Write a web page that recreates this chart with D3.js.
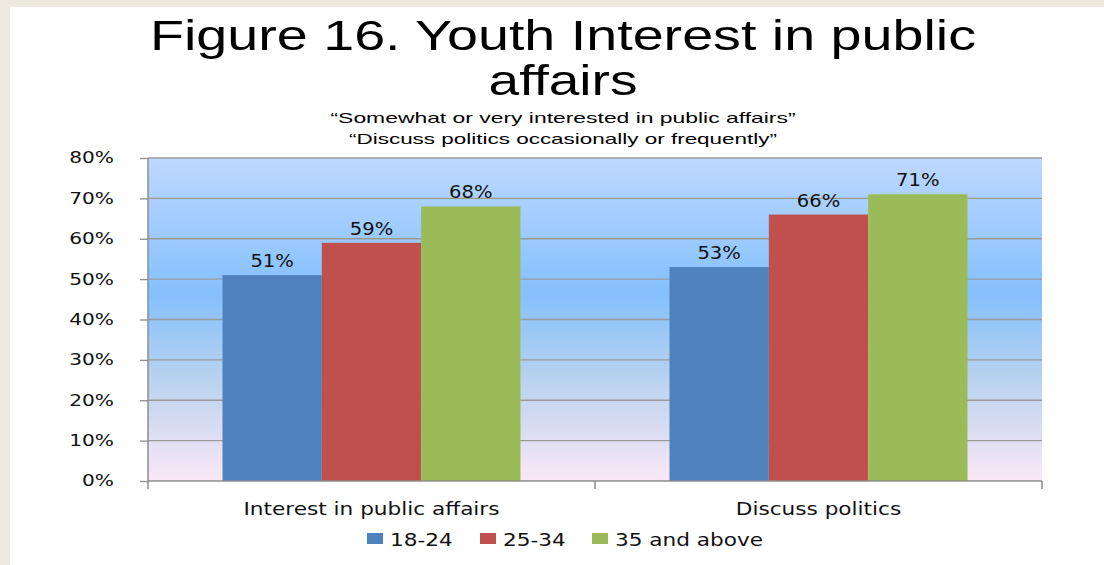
<!DOCTYPE html>
<html>
<head>
<meta charset="utf-8">
<script src="https://cdn.jsdelivr.net/npm/d3@7"></script>
<style>
  html, body { margin: 0; padding: 0; background: #ffffff; }
  svg { display: block; }
</style>
</head>
<body>
<svg id="chart" width="1104" height="565"></svg>
<script>
// Survey data: share of respondents by age group
const categories = ["Interest in public affairs", "Discuss politics"];
const seriesNames = ["18-24", "25-34", "35 and above"];
const seriesColors = ["#4f81bd", "#c0504d", "#9bbb59"];
const values18to24 = [51, 53];
const values25to34 = [59, 66];
const values35plus = [68, 71];
const yTicks = [0, 10, 20, 30, 40, 50, 60, 70, 80];
const titleLines = ["Figure 16. Youth Interest in public", "affairs"];
const subtitleLines = ["\u201cSomewhat or very interested in public affairs\u201d",
                       "\u201cDiscuss politics occasionally or frequently\u201d"];

const seriesValues = [values18to24, values25to34, values35plus];

const svg = d3.select("#chart");
const W = 1104, H = 565;
const labelFont = "'DejaVu Sans', Verdana, sans-serif";
const titleFont = "'Liberation Sans', Arial, sans-serif";

// widen text horizontally by a factor (labels use a wide face)
function stretch(sel, factor) {
  sel.each(function () {
    const w = this.getComputedTextLength();
    d3.select(this).attr("textLength", w * factor).attr("lengthAdjust", "spacingAndGlyphs");
  });
}

// slide frame
svg.append("rect").attr("x", 0).attr("y", 0).attr("width", W).attr("height", H).attr("fill", "#ece9df");
svg.append("rect").attr("x", 10).attr("y", 7).attr("width", W - 10).attr("height", H - 7).attr("fill", "#ffffff");

const plot = { left: 148, right: 1042, top: 158, bottom: 481 };

const x0 = d3.scaleBand().domain(categories).range([plot.left, plot.right]).paddingInner(0).paddingOuter(0);
const barW = x0.bandwidth() / 4.5;
const x1 = d3.scaleBand().domain(seriesNames).range([0, barW * 3]);
const y = d3.scaleLinear().domain([0, 80]).range([plot.bottom, plot.top]);

// plot area gradient
const defs = svg.append("defs");
const grad = defs.append("linearGradient").attr("id", "plotBg").attr("x1", 0).attr("y1", 0).attr("x2", 0).attr("y2", 1);
[[0, "#bdd8ff"], [0.42, "#84c0fd"], [0.7, "#bcd3ee"], [1, "#fbe8f7"]].forEach(([o, c]) =>
  grad.append("stop").attr("offset", o).attr("stop-color", c));
svg.append("rect")
  .attr("x", plot.left).attr("y", plot.top)
  .attr("width", plot.right - plot.left).attr("height", plot.bottom - plot.top)
  .attr("fill", "url(#plotBg)");

// gridlines
svg.append("g").selectAll("line").data(yTicks.filter(t => t > 0)).join("line")
  .attr("x1", plot.left).attr("x2", plot.right)
  .attr("y1", d => y(d)).attr("y2", d => y(d))
  .attr("stroke", "#9a9a9a").attr("stroke-width", 1.3);

// titles
svg.append("g").selectAll("text").data(titleLines).join("text")
  .attr("x", 563).attr("y", (d, i) => 50 + i * 45)
  .attr("text-anchor", "middle")
  .attr("font-family", titleFont)
  .attr("font-size", 42)
  .attr("fill", "#000")
  .attr("textLength", (d, i) => i === 0 ? 826 : 149)
  .attr("lengthAdjust", "spacingAndGlyphs")
  .text(d => d);

svg.append("g").selectAll("text").data(subtitleLines).join("text")
  .attr("x", 563).attr("y", (d, i) => 123 + i * 21)
  .attr("text-anchor", "middle")
  .attr("font-family", titleFont)
  .attr("font-size", 15)
  .attr("textLength", (d, i) => i === 0 ? 465 : 428)
  .attr("lengthAdjust", "spacingAndGlyphs")
  .text(d => d);

// bars
const groups = svg.append("g").selectAll("g").data(categories).join("g")
  .attr("transform", c => `translate(${x0(c) + barW * 0.75},0)`);

const barData = (c, ci) => seriesNames.map((s, si) => ({ s, si, v: seriesValues[si][ci] }));

groups.selectAll("rect").data(barData).join("rect")
  .attr("x", d => x1(d.s))
  .attr("width", x1.bandwidth())
  .attr("y", d => y(d.v))
  .attr("height", d => y(0) - y(d.v))
  .attr("fill", d => seriesColors[d.si]);

const valueLabels = groups.selectAll("text").data(barData).join("text")
  .attr("x", d => x1(d.s) + x1.bandwidth() / 2)
  .attr("y", d => y(d.v) - 8)
  .attr("text-anchor", "middle")
  .attr("font-family", labelFont)
  .attr("font-size", 17)
  .attr("fill", "#111")
  .text(d => d.v + "%");
stretch(valueLabels, 1.15);

// y axis
const yAxis = d3.axisLeft(y).tickValues(yTicks).tickFormat(d => d + "%").tickSize(8).tickPadding(26);
const gy = svg.append("g").attr("transform", `translate(${plot.left},0)`).call(yAxis);
gy.select(".domain").attr("stroke", "#8c8c8c").attr("stroke-width", 1.5).attr("d", `M0,${plot.top}V${plot.bottom}`);
gy.selectAll(".tick line").attr("stroke", "#8c8c8c").attr("stroke-width", 1.3);
const yLabels = gy.selectAll(".tick text")
  .attr("font-family", labelFont)
  .attr("font-size", 15.5).attr("fill", "#111");
stretch(yLabels, 1.3);

// x axis
const xAxis = d3.axisBottom(x0).tickSize(0).tickPadding(21);
const gx = svg.append("g").attr("transform", `translate(0,${plot.bottom})`).call(xAxis);
gx.select(".domain").attr("stroke", "#8c8c8c").attr("stroke-width", 1.5).attr("d", `M${plot.left},0H${plot.right}`);
const xLabels = gx.selectAll(".tick text")
  .attr("font-family", labelFont)
  .attr("font-size", 18).attr("fill", "#111");
stretch(xLabels, 1.2);
// category separators
const bounds = [plot.left, ...categories.slice(1).map(c => x0(c)), plot.right];
gx.append("g").selectAll("line").data(bounds).join("line")
  .attr("x1", d => d).attr("x2", d => d).attr("y1", 0).attr("y2", 8)
  .attr("stroke", "#8c8c8c").attr("stroke-width", 1.5);

// legend
const legendX = [367, 480, 592];
const legend = svg.append("g").selectAll("g").data(seriesNames).join("g")
  .attr("transform", (d, i) => `translate(${legendX[i]},533)`);
legend.append("rect").attr("width", 16).attr("height", 11).attr("fill", (d, i) => seriesColors[i]);
const legendText = legend.append("text").attr("x", 23).attr("y", 12.5)
  .attr("font-family", labelFont)
  .attr("font-size", 18).attr("fill", "#111")
  .text(d => d);
stretch(legendText, 1.2);
</script>
</body>
</html>
